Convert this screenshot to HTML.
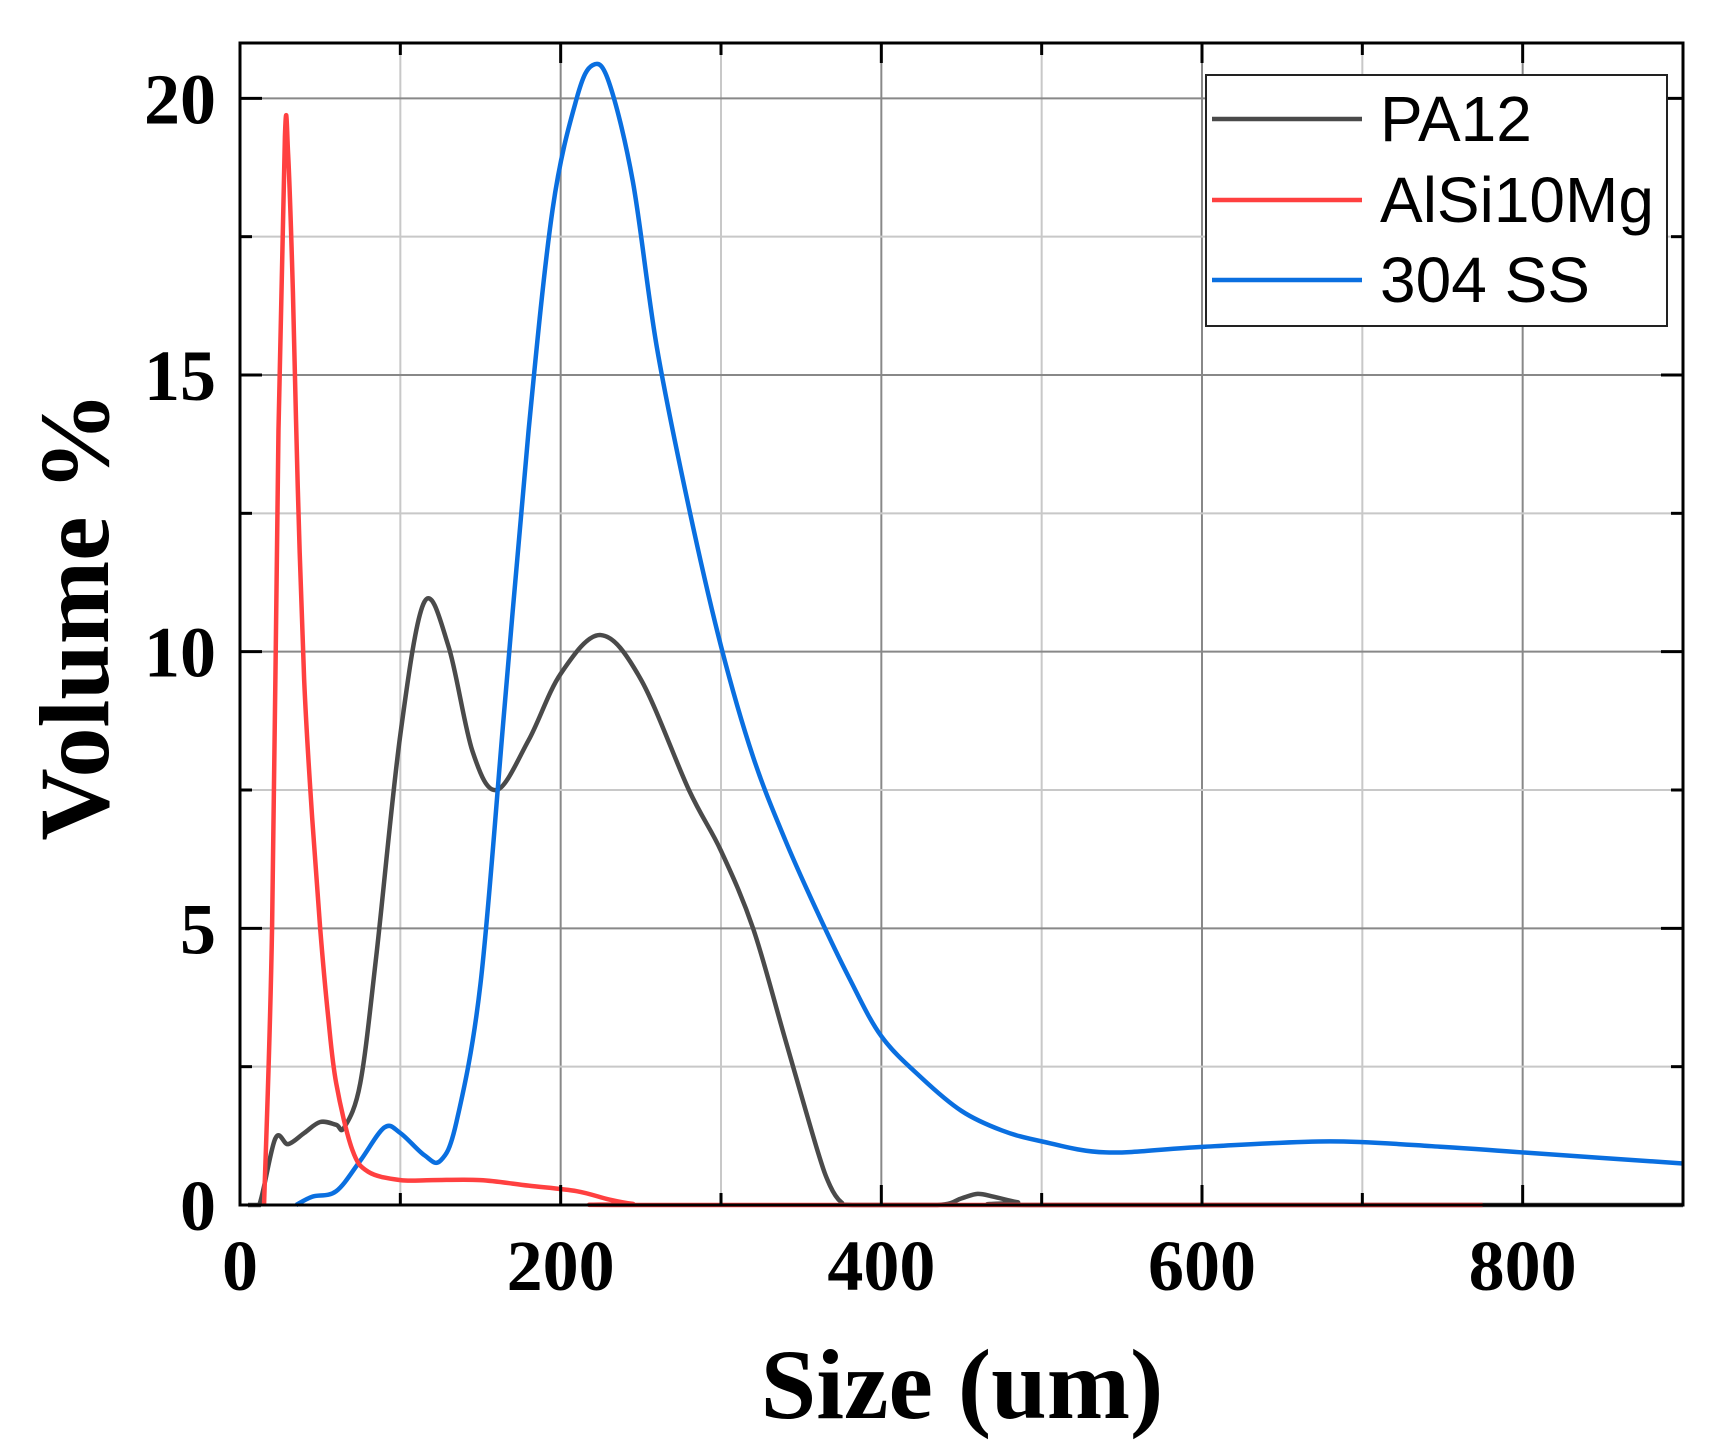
<!DOCTYPE html>
<html><head><meta charset="utf-8"><style>
html,body{margin:0;padding:0;background:#fff;}
svg{display:block;}
</style></head><body>
<svg id="chart" width="1715" height="1446" xmlns="http://www.w3.org/2000/svg">
<g id="grid"></g>
<g id="series"></g>
<g id="axes"></g>
<text x="962" y="1418" text-anchor="middle" font-family="Liberation Serif, serif" font-weight="bold" font-size="100">Size (um)</text>
<text transform="translate(108,616) rotate(-90)" text-anchor="middle" font-family="Liberation Serif, serif" font-weight="bold" font-size="100">Volume %</text>
<g>
<rect x="1206" y="75" width="461" height="251" fill="#fff" stroke="#222" stroke-width="2"/>
<line x1="1212" y1="119" x2="1362" y2="119" stroke="#4a4a4a" stroke-width="4.5"/>
<text x="1380" y="141" font-family="Liberation Sans, sans-serif" font-size="64">PA12</text>
<line x1="1212" y1="200" x2="1362" y2="200" stroke="#ff4040" stroke-width="4.5"/>
<text x="1380" y="222" font-family="Liberation Sans, sans-serif" font-size="64">AlSi10Mg</text>
<line x1="1212" y1="280" x2="1362" y2="280" stroke="#0a6fe0" stroke-width="4.5"/>
<text x="1380" y="302" font-family="Liberation Sans, sans-serif" font-size="64">304 SS</text>
</g>
</svg>
<script>
const xTicks=[0,200,400,600,800];
const yTicks=[0,5,10,15,20];
const paX=[5,12,22,30,40,50,60,65,75,85,100,115,130,145,160,180,200,225,250,280,300,320,340,360,368,375,382,435,450,460,470,485,500,900];
const paY=[0,0,1.2,1.1,1.3,1.5,1.45,1.4,2.2,4.5,8.5,10.9,10.1,8.2,7.5,8.4,9.6,10.3,9.5,7.5,6.4,5.0,3.0,1.0,0.35,0.05,0,0,0.12,0.2,0.15,0.05,0,0];
const alX=[15,20,24,28,30,33,36,40,45,50,55,60,70,80,100,120,150,180,210,230,245,260,775];
const alY=[0,5,14,19.3,19,16.5,13,9.5,7,5,3.4,2.2,1.0,0.6,0.45,0.45,0.45,0.35,0.25,0.1,0.02,0,0];
const ssX=[35,45,60,75,90,100,115,125,135,150,165,180,195,210,220,230,245,260,280,300,320,340,360,380,400,425,450,475,500,540,600,680,750,800,900];
const ssY=[0,0.15,0.25,0.8,1.4,1.3,0.9,0.8,1.5,4,9,14,18,20,20.6,20.3,18.5,15.5,12.6,10.1,8.1,6.6,5.3,4.1,3.05,2.3,1.7,1.35,1.15,0.95,1.05,1.15,1.05,0.95,0.75];

const L=240,R=1683,T=43,B=1205,XMAX=900,YMAX=21;
const sx=v=>L+v*(R-L)/XMAX, sy=v=>B-v*(B-T)/YMAX;
const NS='http://www.w3.org/2000/svg';
function mk(tag,attrs,parent){const e=document.createElementNS(NS,tag);for(const k in attrs)e.setAttribute(k,attrs[k]);parent.appendChild(e);return e;}
const grid=document.getElementById('grid'),axes=document.getElementById('axes'),series=document.getElementById('series');
for(let v=100;v<XMAX;v+=100){const major=v%200===0;
 const l=mk('line',{x1:sx(v),x2:sx(v),y1:T,y2:B,stroke:major?'#888':'#c8c8c8','stroke-width':2},grid);
 
 
 const t=mk('line',{x1:sx(v),x2:sx(v),y1:B,y2:B-(major?20:12),stroke:'#000','stroke-width':3},axes);
 
 
 const t2=mk('line',{x1:sx(v),x2:sx(v),y1:T,y2:T+(major?20:12),stroke:'#000','stroke-width':3},axes);
 
 }
for(let v=2.5;v<YMAX;v+=2.5){const major=v%5===0;
 const l=mk('line',{x1:L,x2:R,y1:sy(v),y2:sy(v),stroke:major?'#888':'#c8c8c8','stroke-width':2},grid);
 
 
 const t=mk('line',{x1:L,x2:L+(major?22:12),y1:sy(v),y2:sy(v),stroke:'#000','stroke-width':3},axes);
 
 
 const t2=mk('line',{x1:R,x2:R-(major?22:12),y1:sy(v),y2:sy(v),stroke:'#000','stroke-width':3},axes);
 
 }
const frame=mk('rect',{x:L,y:T,width:R-L,height:B-T,fill:'none',stroke:'#000','stroke-width':3},axes);


xTicks.forEach(v=>{const t=mk('text',{x:sx(v),y:1290,'text-anchor':'middle','font-family':'Liberation Serif, serif','font-weight':'bold','font-size':72},axes);t.textContent=v;
 
 });
yTicks.forEach(v=>{const t=mk('text',{x:216,y:sy(v)+25,'text-anchor':'end','font-family':'Liberation Serif, serif','font-weight':'bold','font-size':72},axes);t.textContent=v;
 
 });
function path(xs,ys){const p=xs.map((x,i)=>[sx(x),sy(ys[i])]);let d='M'+p[0][0]+','+p[0][1];
 for(let i=0;i<p.length-1;i++){const p0=p[Math.max(0,i-1)],p1=p[i],p2=p[i+1],p3=p[Math.min(p.length-1,i+2)];
  let c1y=p1[1]+(p2[1]-p0[1])/6,c2y=p2[1]-(p3[1]-p1[1])/6;c1y=Math.min(c1y,B);c2y=Math.min(c2y,B);
  d+=' C'+(p1[0]+(p2[0]-p0[0])/6)+','+c1y+' '+(p2[0]-(p3[0]-p1[0])/6)+','+c2y+' '+p2[0]+','+p2[1];}
 return d;}
const s1=mk('path',{d:path(paX,paY),fill:'none',stroke:'#4a4a4a','stroke-width':4.5},series);


const s2=mk('path',{d:path(ssX,ssY),fill:'none',stroke:'#0a6fe0','stroke-width':4.5},series);


const s3=mk('path',{d:path(alX,alY),fill:'none',stroke:'#ff4040','stroke-width':4.5},series);


</script>
</body></html>
